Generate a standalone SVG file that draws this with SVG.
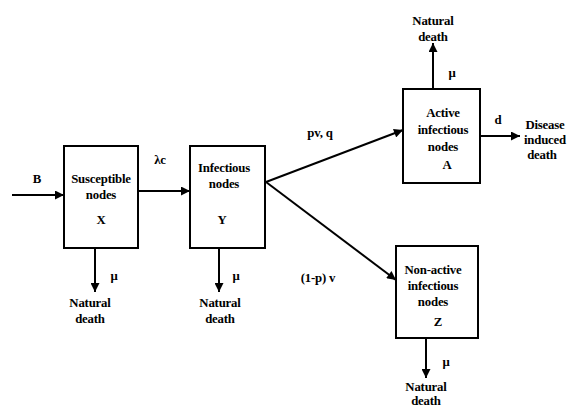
<svg xmlns="http://www.w3.org/2000/svg" width="567" height="409" viewBox="0 0 567 409">
<style>
.box{fill:#fff;stroke:#000;stroke-width:2}
.ln{stroke:#000;stroke-width:2;fill:none}
text{font-family:"Liberation Serif","Times New Roman",serif;font-size:12.8px;font-weight:bold;fill:#000;text-anchor:middle;letter-spacing:-0.2px}
</style>
<defs>
<marker id="ah" viewBox="0 0 10 10" refX="10" refY="5" markerWidth="10" markerHeight="9" markerUnits="userSpaceOnUse" orient="auto">
<path d="M0,0 L10,5 L0,10 z" fill="#000"/>
</marker>
</defs>
<rect width="567" height="409" fill="#fff"/>
<g id="connectors">
<line class="ln" x1="12" y1="195" x2="64" y2="195" marker-end="url(#ah)"/>
<line class="ln" x1="138" y1="191" x2="190" y2="191" marker-end="url(#ah)"/>
<line class="ln" x1="95" y1="248" x2="95" y2="292" marker-end="url(#ah)"/>
<line class="ln" x1="219" y1="248" x2="219" y2="292" marker-end="url(#ah)"/>
<line class="ln" x1="266" y1="182" x2="403" y2="130" marker-end="url(#ah)"/>
<line class="ln" x1="266" y1="182" x2="396" y2="280" marker-end="url(#ah)"/>
<line class="ln" x1="433" y1="89" x2="433" y2="43" marker-end="url(#ah)"/>
<line class="ln" x1="480" y1="136" x2="520" y2="136" marker-end="url(#ah)"/>
<line class="ln" x1="426" y1="338" x2="426" y2="378" marker-end="url(#ah)"/>
<text x="37" y="183">B</text>
<text x="160" y="164">λc</text>
<text x="114" y="280">μ</text>
<text x="236" y="280">μ</text>
<text x="452" y="77">μ</text>
<text x="446" y="366">μ</text>
<text x="498" y="124">d</text>
<text x="320" y="137">pv, q</text>
<text x="318" y="282">(1-p) v</text>
<text x="90" y="307">Natural</text>
<text x="90" y="323">death</text>
<text x="220" y="307">Natural</text>
<text x="220" y="323">death</text>
<text x="433" y="25">Natural</text>
<text x="433" y="41">death</text>
<text x="426" y="391">Natural</text>
<text x="426" y="405">death</text>
<text x="545" y="129">Disease</text>
<text x="545" y="144">induced</text>
<text x="542" y="159">death</text>
</g>
<g id="X">
<rect class="box" x="64" y="146" width="74" height="102"/>
<text x="101" y="183">Susceptible</text>
<text x="101" y="199">nodes</text>
<text x="101" y="224">X</text>
</g>
<g id="Y">
<rect class="box" x="190" y="146" width="75" height="102"/>
<text x="224" y="172">Infectious</text>
<text x="224" y="188">nodes</text>
<text x="222" y="224">Y</text>
</g>
<g id="A">
<rect class="box" x="403" y="89" width="77" height="94"/>
<text x="443" y="117">Active</text>
<text x="443" y="134">infectious</text>
<text x="443" y="151">nodes</text>
<text x="447" y="169">A</text>
</g>
<g id="Z">
<rect class="box" x="396" y="246" width="82" height="92"/>
<text x="433" y="274">Non-active</text>
<text x="433" y="290">infectious</text>
<text x="433" y="306">nodes</text>
<text x="438" y="326">Z</text>
</g>
</svg>
